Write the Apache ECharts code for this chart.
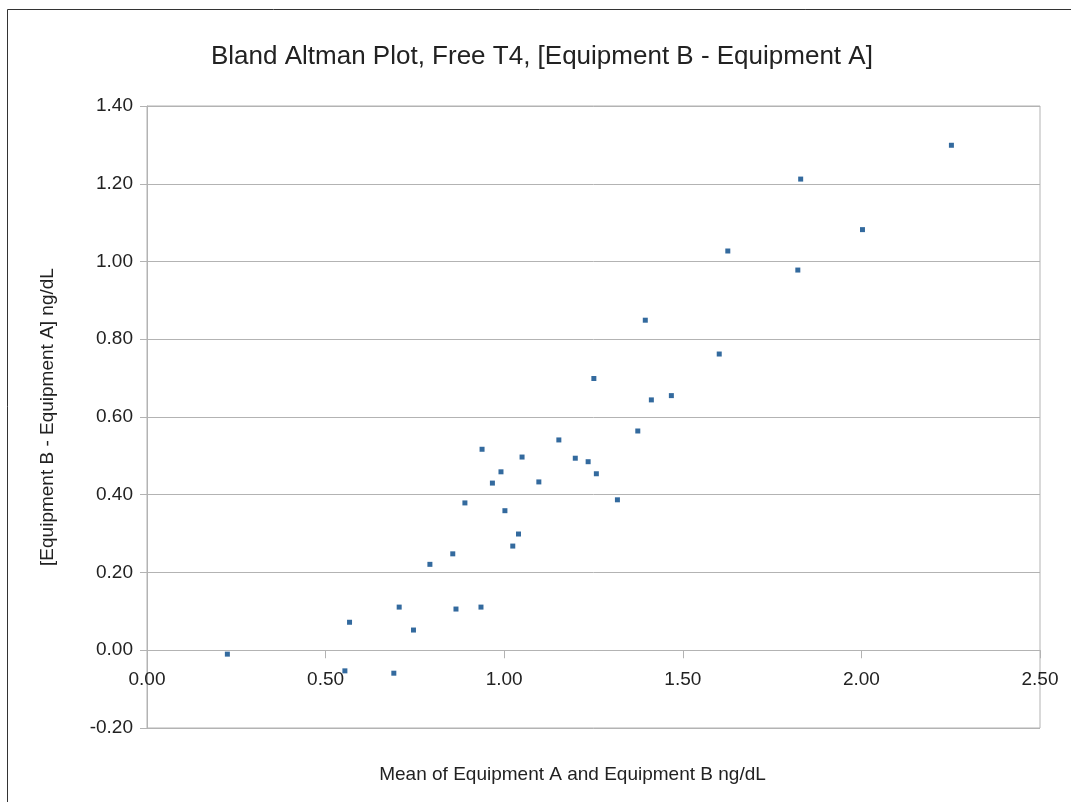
<!DOCTYPE html>
<html>
<head>
<meta charset="utf-8">
<script src="https://cdn.jsdelivr.net/npm/echarts@6/dist/echarts.min.js"></script>
<style>
    html, body { margin: 0; padding: 0; background: #fff; }
    #chart { width: 1071px; height: 802px; }
</style>
</head>
<body>
<div id="chart"></div>
<script>
// 均值 (x) 和差值 (y)
var meanAB = [0.225, 0.554, 0.567, 0.691, 0.706, 0.746, 0.792, 0.856, 0.865, 0.890,
    0.935, 0.938, 0.967, 0.991, 1.002, 1.024, 1.040, 1.050, 1.097, 1.153,
    1.199, 1.235, 1.258, 1.317, 1.251, 1.395, 1.412, 1.468, 1.374, 1.602,
    1.626, 1.822, 1.830, 2.003, 2.252];
var diffBA = [-0.010, -0.053, 0.072, -0.059, 0.111, 0.052, 0.221, 0.248, 0.106, 0.379,
    0.111, 0.517, 0.430, 0.459, 0.359, 0.268, 0.299, 0.497, 0.433, 0.541,
    0.494, 0.485, 0.454, 0.387, 0.699, 0.849, 0.644, 0.655, 0.564, 0.762,
    1.027, 0.978, 1.212, 1.082, 1.299];

var points = [];
for (var i = 0; i < meanAB.length; i++) {
    points.push([meanAB[i], diffBA[i]]);
}

var myChart = echarts.init(document.getElementById('chart'));
var gridColor = '#b3b3b3';
var textColor = '#222';

var option = {
    backgroundColor: '#fff',
    textStyle: { fontFamily: 'Liberation Sans' },
    title: {
        text: 'Bland Altman Plot, Free T4, [Equipment B - Equipment A]',
        left: 206,
        top: 39,
        textStyle: { fontSize: 26, fontWeight: 'normal', color: textColor, fontFamily: 'Liberation Sans' }
    },
    graphic: [
        {
            type: 'rect',
            shape: { x: 7.5, y: 9.5, width: 1100, height: 830 },
            style: { fill: 'none', stroke: '#333', lineWidth: 1 },
            silent: true
        }
    ],
    grid: {
        left: 147,
        right: 31,
        top: 106,
        bottom: 74,
        outerBoundsMode: 'none',
        containLabel: false,
        show: true,
        borderColor: gridColor,
        borderWidth: 1
    },
    xAxis: {
        type: 'value',
        min: 0,
        max: 2.5,
        interval: 0.5,
        name: 'Mean of Equipment A and Equipment B ng/dL',
        nameLocation: 'middle',
        nameGap: 37,
        nameTextStyle: { fontSize: 19, color: textColor, padding: [0, 42, 0, 0] },
        axisLine: { show: true, onZero: true, lineStyle: { color: gridColor } },
        axisTick: { show: true, length: 8, lineStyle: { color: gridColor } },
        axisLabel: {
            fontSize: 19, color: textColor, margin: -58,
            formatter: function (v) { return v.toFixed(2); }
        },
        splitLine: { show: false }
    },
    yAxis: {
        type: 'value',
        min: -0.2,
        max: 1.4,
        interval: 0.2,
        name: '[Equipment B - Equipment A] ng/dL',
        nameLocation: 'middle',
        nameGap: 90,
        nameTextStyle: { fontSize: 19, color: textColor },
        axisLine: { show: true, lineStyle: { color: gridColor } },
        axisTick: { show: true, length: 7, lineStyle: { color: gridColor } },
        axisLabel: {
            fontSize: 19, color: textColor, margin: 14,
            formatter: function (v) { return v.toFixed(2); }
        },
        splitLine: { show: true, lineStyle: { color: gridColor, width: 1 } }
    },
    series: [
        {
            type: 'scatter',
            symbol: 'rect',
            symbolSize: 5,
            itemStyle: { color: '#004586' },
            data: points
        }
    ]
};
myChart.setOption(option);
</script>
</body>
</html>
